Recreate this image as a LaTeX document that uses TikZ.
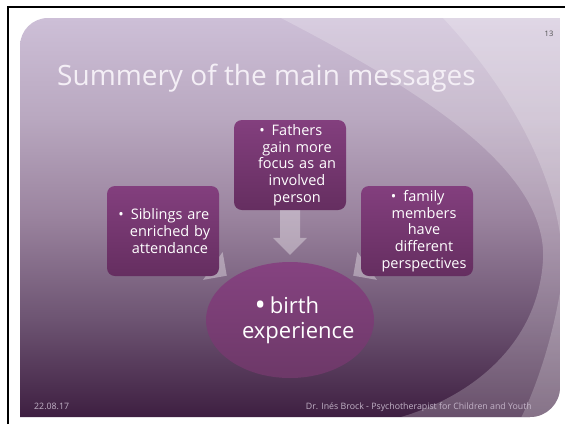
\documentclass[tikz,border=0pt]{standalone}
\usepackage{fontspec}
\setmainfont{Open Sans}
\usetikzlibrary{arrows.meta,shapes.geometric}
\definecolor{slidetop}{HTML}{CDBFD7}
\definecolor{slideup}{HTML}{B9A8C0}
\definecolor{slidemid}{HTML}{9A839E}
\definecolor{slidelow}{HTML}{6E5573}
\definecolor{slidebot}{HTML}{3E1F41}
\definecolor{boxtop}{HTML}{833F7E}
\definecolor{boxbot}{HTML}{652E60}
\definecolor{titlecol}{HTML}{F4EFF6}
\definecolor{footcol}{HTML}{C2B3C7}
\definecolor{pagecol}{HTML}{4D4D4D}
\pgfdeclareverticalshading{slideshade}{100bp}{color(0bp)=(slidebot); color(25bp)=(slidebot); color(37.5bp)=(slidelow); color(50bp)=(slidemid); color(62.5bp)=(slideup); color(75bp)=(slidetop); color(100bp)=(slidetop)}
\pgfdeclarelayer{slide}
\pgfdeclarelayer{behind}
\pgfsetlayers{slide,behind,main}
\tikzset{
	msgbox/.style={rounded corners=8pt, top color=boxtop, bottom color=boxbot, minimum width=112pt, minimum height=90pt, text width=104pt, inner xsep=4pt, inner ysep=0pt, align=center, text=white, font=\fontsize{14.5}{16.7}\selectfont, execute at begin node={\advance\leftskip by 14pt}},
	centremsg/.style={ellipse, top color=boxtop!98!white, bottom color=boxbot!95!white, minimum width=168pt, minimum height=116pt, text width=114pt, inner sep=0pt, align=center, text=white, font=\fontsize{22}{25}\selectfont, execute at begin node={\advance\leftskip by 9pt}},
	fatarrow/.style={line width=20pt, white, -{Triangle[length=17pt,width=34pt,line width=0pt]}},
	footer/.style={inner sep=0pt, text=footcol, font=\fontsize{8.8}{10}\selectfont},
}
\begin{document}
\begin{tikzpicture}[x=1pt,y=-1pt]
\useasboundingbox (0,0) rectangle (565,424);
\begin{pgfonlayer}{slide}
\fill[white] (0,0) rectangle (565,424);
\shade[shading=slideshade] (20,417) -- (20,46) arc[start angle=180,end angle=270,radius=28] -- (560,18) -- (560,387) arc[start angle=0,end angle=90,radius=30] -- cycle;
\begin{scope}
\clip (20,417) -- (20,46) arc[start angle=180,end angle=270,radius=28] -- (560,18) -- (560,387) arc[start angle=0,end angle=90,radius=30] -- cycle;
% light bands on the right
\fill[white, opacity=0.22] (281,18) .. controls (420,90) and (548,170) .. (543,260) .. controls (538,345) and (470,400) .. (390,420) -- (570,420) -- (570,15) -- cycle;
\fill[white, opacity=0.2] (443,18) .. controls (520,100) and (568,200) .. (562,280) .. controls (553,340) and (535,390) .. (520,420) -- (570,420) -- (570,15) -- cycle;
\end{scope}
\draw[line width=2pt] (8,424) -- (8,7) -- (565,7);
\end{pgfonlayer}
\node[msgbox] (fathers) at (290,165) {\llap{\textbullet\hspace{7pt}}Fathers\\gain more\\focus as an\\involved\\person};
\node[msgbox] (siblings) at (163,231) {\llap{\textbullet\hspace{7pt}}Siblings are\\enriched by\\attendance};
\node[msgbox] (family) at (417,231) {\llap{\textbullet\hspace{7pt}}family\\members\\have\\different\\perspectives};
\node[centremsg] (birth) at (290,320) {\llap{\raisebox{-2pt}{\fontsize{30}{25}\selectfont\textbullet}\hspace{4pt}}birth\\experience};
\begin{pgfonlayer}{behind}
\begin{scope}[transparency group, opacity=0.35]
\draw[fatarrow, shorten >=7pt] (fathers) -- (birth);
\draw[fatarrow, shorten >=5pt] (siblings.center) -- (birth);
\draw[fatarrow, shorten >=5pt] (family.center) -- (birth);
\end{scope}
\end{pgfonlayer}
\node[anchor=base west, inner sep=0pt, text=titlecol, font=\fontsize{28}{34}\selectfont] (title) at (57,85) {Summery of the main messages};
\node[text=pagecol, font=\fontsize{7.5}{9}\selectfont] (pagenum) at (549,34) {13};
\node[footer, anchor=base west] (date) at (34,409) {22.08.17};
\node[footer, anchor=base east] (author) at (532,409) {Dr. Inés Brock - Psychotherapist for Children and Youth};
\end{tikzpicture}
\end{document}
